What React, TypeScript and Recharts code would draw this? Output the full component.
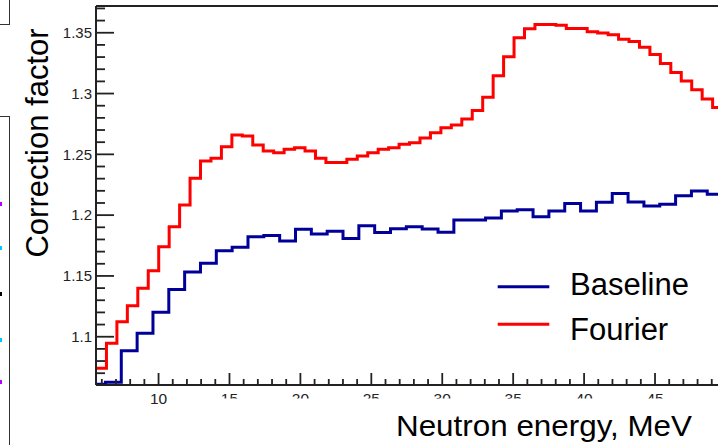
import React from 'react';
import { LineChart, Line, XAxis, YAxis, Legend } from 'recharts';

// ---- data ----
const xDomain = [5.59, 49.8];
const yDomain = [1.0603, 1.372];

const fourierStart = 5.59;
const fourierWidth = 0.7368;
const fourierValues = [
  1.074, 1.0946, 1.1123, 1.1255, 1.1398, 1.1543, 1.174, 1.1905, 1.2083, 1.2303,
  1.2445, 1.2467, 1.2562, 1.2659, 1.265, 1.2577, 1.2527, 1.2513, 1.2541, 1.2554,
  1.2527, 1.2467, 1.2433, 1.2433, 1.2459, 1.2486, 1.2513, 1.2541, 1.2554, 1.2582,
  1.2595, 1.2634, 1.2678, 1.2719, 1.2741, 1.279, 1.286, 1.2969, 1.3146, 1.3303,
  1.3459, 1.3533, 1.3567, 1.3567, 1.3561, 1.3535, 1.3535, 1.3508, 1.3497, 1.3484,
  1.3447, 1.3428, 1.338, 1.3322, 1.3248, 1.3174, 1.3103, 1.3031, 1.2956, 1.2885,
];

const baselineStart = 5.14;
const baselineWidth = 1.1165;
const baselineValues = [
  1.061, 1.0625, 1.0884, 1.1028, 1.1202, 1.1388, 1.1532, 1.1604, 1.1707, 1.1735,
  1.1822, 1.1832, 1.1787, 1.1884, 1.1845, 1.1867, 1.1807, 1.1912, 1.1857, 1.1888,
  1.1905, 1.1886, 1.1859, 1.196, 1.196, 1.1976, 1.2034, 1.2044, 1.1987, 1.2035,
  1.2095, 1.2035, 1.2105, 1.2177, 1.2108, 1.2075, 1.2089, 1.2159, 1.2198, 1.2171,
];

const xTicks = [
  6, 7, 8, 9, 10, 11, 12, 13, 14, 15, 16, 17, 18, 19, 20, 21, 22, 23, 24, 25, 26, 27,
  28, 29, 30, 31, 32, 33, 34, 35, 36, 37, 38, 39, 40, 41, 42, 43, 44, 45, 46, 47, 48, 49,
];
const xMajorLabels = [10, 15, 20, 25, 30, 35, 40, 45];

const yTicks = [
  1.07, 1.08, 1.09, 1.1, 1.11, 1.12, 1.13, 1.14, 1.15, 1.16, 1.17, 1.18, 1.19, 1.2,
  1.21, 1.22, 1.23, 1.24, 1.25, 1.26, 1.27, 1.28, 1.29, 1.3, 1.31, 1.32, 1.33, 1.34,
  1.35, 1.36, 1.37,
];
const yMajorLabels = [1.1, 1.15, 1.2, 1.25, 1.3, 1.35];

const seriesNames = ['Baseline', 'Fourier'];

// histogram -> step points
const toSteps = (start: number, width: number, values: number[]) => {
  const pts = values.map((v, i) => ({ x: start + i * width, y: v }));
  pts.push({ x: start + values.length * width, y: values[values.length - 1] });
  return pts;
};
const fourierData = toSteps(fourierStart, fourierWidth, fourierValues);
const baselineData = toSteps(baselineStart, baselineWidth, baselineValues);

// ---- layout ----
const CHART_W = 745;
const CHART_H = 445;
const PLOT_LEFT = 96;
const PLOT_TOP = 6;
const PLOT_BOTTOM = 385;
const PLOT_RIGHT = 723.1;
const TITLE_BOX_LEFT = 185;
const TITLE_BOX_TOP = 398.5;
const FONT = '"Liberation Sans", Arial, Helvetica, sans-serif';
const AXIS_COLOR = '#222';

const YTick = (props: any) => {
  const { y, payload } = props;
  const v = payload.value;
  const major = yMajorLabels.includes(v);
  return (
    <g>
      <line x1={PLOT_LEFT} x2={PLOT_LEFT + (major ? 18 : 9)} y1={y} y2={y} stroke={AXIS_COLOR} strokeWidth={1.8} />
      {major && (
        <text x={PLOT_LEFT - 4} y={y + 5.2} textAnchor="end" fontSize={15} fontFamily={FONT} fill="#222">
          {String(v)}
        </text>
      )}
    </g>
  );
};

const XTick = (props: any) => {
  const { x, payload } = props;
  const v = payload.value;
  const major = xMajorLabels.includes(v);
  const hidden = x > TITLE_BOX_LEFT; // partly covered by the x-title box in the original
  const boxTop = PLOT_BOTTOM + 2;
  const boxH = hidden ? TITLE_BOX_TOP - boxTop : 30;
  return (
    <g>
      <line x1={x} x2={x} y1={PLOT_BOTTOM} y2={PLOT_BOTTOM - (major ? 12 : 6)} stroke={AXIS_COLOR} strokeWidth={1.8} />
      {major && (
        <svg x={x - 20} y={boxTop} width={40} height={boxH} overflow="hidden">
          <text x={20} y={PLOT_BOTTOM + 18.5 - boxTop} textAnchor="middle" fontSize={15.5} fontFamily={FONT} fill="#222">
            {String(v)}
          </text>
        </svg>
      )}
    </g>
  );
};

const XTitle = () => (
  <text
    x={544}
    y={436}
    textAnchor="middle"
    fontSize={29.5}
    fontFamily={FONT}
    fill="#000"
    textLength={296}
    lengthAdjust="spacingAndGlyphs"
  >
    Neutron energy, MeV
  </text>
);

const YTitle = () => (
  <text
    x={48}
    y={143}
    transform="rotate(-90, 48, 143)"
    textAnchor="middle"
    fontSize={31}
    fontFamily={FONT}
    fill="#000"
  >
    Correction factor
  </text>
);

const LegendBox = (props: any) => {
  const payload = (props.payload || []).slice();
  const order = (name: string) => seriesNames.indexOf(name);
  payload.sort((a: any, b: any) => order(a.value) - order(b.value));
  const lineY = [24.7, 62.3];
  const textY = [33, 78];
  return (
    <svg width={230} height={90} style={{ display: 'block', overflow: 'visible' }}>
      {payload.map((p: any, i: number) => (
        <g key={p.value}>
          <line x1={7.7} x2={59.3} y1={lineY[i]} y2={lineY[i]} stroke={p.color} strokeWidth={3} />
          <text x={80} y={textY[i]} fontSize={31} fontFamily={FONT} fill="#000">
            {p.value}
          </text>
        </g>
      ))}
    </svg>
  );
};

export default function App() {
  return (
    <div
      style={{
        position: 'absolute',
        left: 0,
        top: 0,
        width: 718,
        height: 445,
        overflow: 'hidden',
        background: '#fff',
      }}
    >
      <LineChart
        width={CHART_W}
        height={CHART_H}
        margin={{ top: PLOT_TOP - 1, left: PLOT_LEFT - 1, right: CHART_W - PLOT_RIGHT, bottom: CHART_H - PLOT_BOTTOM - 1 }}
      >
        <XAxis
          xAxisId="main"
          type="number"
          dataKey="x"
          domain={xDomain}
          allowDataOverflow
          ticks={xTicks}
          interval={0}
          tickSize={0}
          tickMargin={0}
          tickLine={false}
          tick={<XTick />}
          axisLine={{ stroke: AXIS_COLOR, strokeWidth: 2 }}
          height={1}
          label={<XTitle />}
        />
        <XAxis
          xAxisId="top"
          orientation="top"
          type="number"
          domain={xDomain}
          allowDataOverflow
          tick={false}
          tickLine={false}
          axisLine={{ stroke: AXIS_COLOR, strokeWidth: 2 }}
          height={1}
        />
        <YAxis
          yAxisId="main"
          type="number"
          domain={yDomain}
          allowDataOverflow
          ticks={yTicks}
          interval={0}
          tickSize={0}
          tickMargin={0}
          tickLine={false}
          tick={<YTick />}
          axisLine={{ stroke: AXIS_COLOR, strokeWidth: 2 }}
          width={1}
          label={<YTitle />}
        />
        <Line
          xAxisId="main"
          yAxisId="main"
          data={baselineData}
          dataKey="y"
          name={seriesNames[0]}
          type="stepAfter"
          stroke="#000099"
          strokeWidth={3}
          strokeLinejoin="miter"
          dot={false}
          activeDot={false}
          isAnimationActive={false}
        />
        <Line
          xAxisId="main"
          yAxisId="main"
          data={fourierData}
          dataKey="y"
          name={seriesNames[1]}
          type="stepAfter"
          stroke="#ff0000"
          strokeWidth={3}
          strokeLinejoin="miter"
          dot={false}
          activeDot={false}
          isAnimationActive={false}
        />
        <Legend
          layout="horizontal"
          verticalAlign="middle"
          align="center"
          content={<LegendBox />}
          wrapperStyle={{ position: 'absolute', left: 490, top: 262, width: 230, height: 90 }}
        />
      </LineChart>
      {/* fragments of the neighbouring panel */}
      <div style={{ position: 'absolute', left: 0, top: 0, width: 9, height: 24, borderRight: '1.5px solid #333', borderBottom: '1.5px solid #333' }} />
      <div style={{ position: 'absolute', left: 0, top: 116, width: 9, height: 340, borderRight: '1.5px solid #333', borderTop: '1.5px solid #333' }} />
      <div style={{ position: 'absolute', left: 0, top: 202, width: 2, height: 4, background: '#b000ff' }} />
      <div style={{ position: 'absolute', left: 0, top: 246, width: 2, height: 4, background: '#00c8ff' }} />
      <div style={{ position: 'absolute', left: 0, top: 292, width: 2, height: 4, background: '#000' }} />
      <div style={{ position: 'absolute', left: 0, top: 338, width: 2, height: 4, background: '#00c8ff' }} />
      <div style={{ position: 'absolute', left: 0, top: 380, width: 2, height: 4, background: '#b000ff' }} />
    </div>
  );
}
